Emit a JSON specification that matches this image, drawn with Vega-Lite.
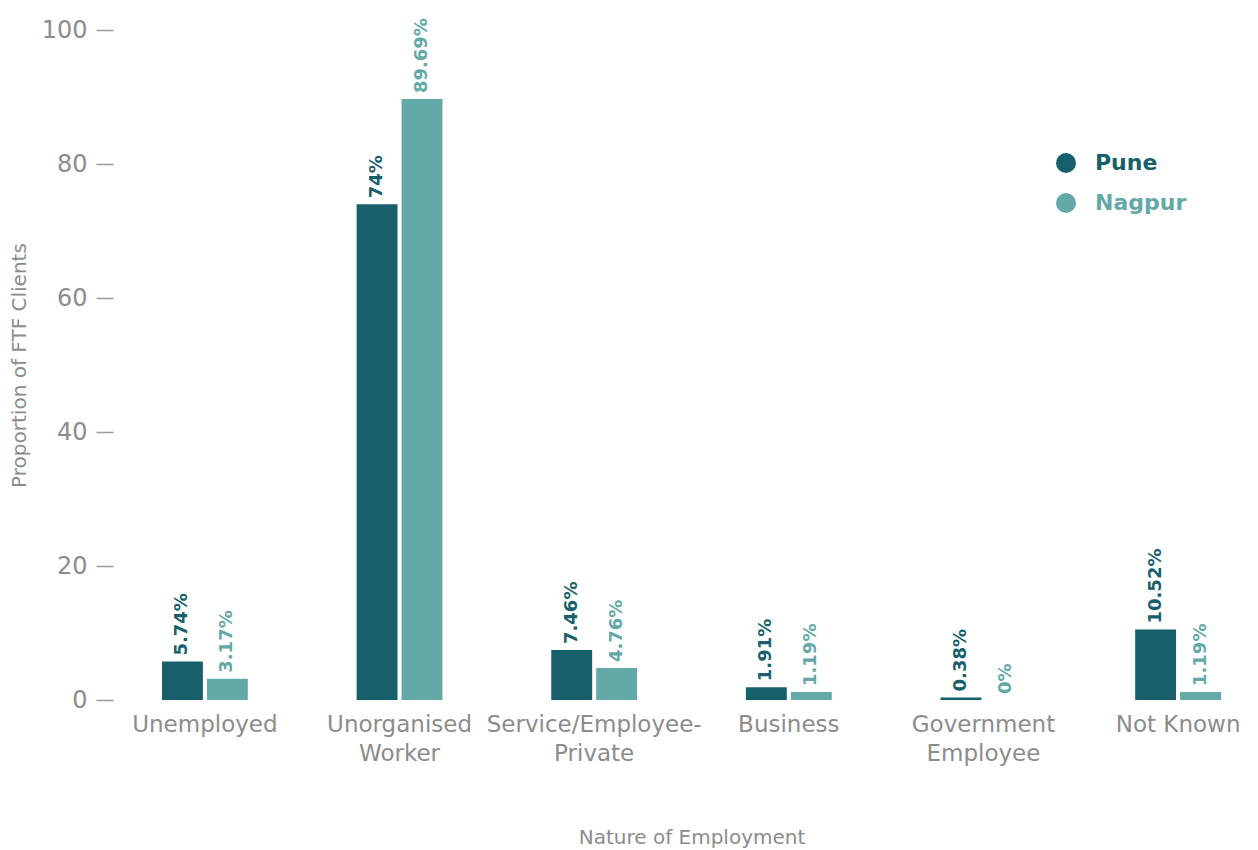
{
  "$schema": "https://vega.github.io/schema/vega-lite/v6.json",
  "width": 1133,
  "height": 670,
  "autosize": {"type": "none"},
  "padding": {"left": 125, "top": 30, "right": 0, "bottom": 150},
  "config": {"font": "DejaVu Sans", "view": {"stroke": null}},
  "data": {
    "values": [
      {"category": "Unemployed", "city": "Pune", "value": 5.74, "label": "5.74%"},
      {"category": "Unemployed", "city": "Nagpur", "value": 3.17, "label": "3.17%"},
      {"category": "Unorganised Worker", "city": "Pune", "value": 74, "label": "74%"},
      {"category": "Unorganised Worker", "city": "Nagpur", "value": 89.69, "label": "89.69%"},
      {"category": "Service/Employee-Private", "city": "Pune", "value": 7.46, "label": "7.46%"},
      {"category": "Service/Employee-Private", "city": "Nagpur", "value": 4.76, "label": "4.76%"},
      {"category": "Business", "city": "Pune", "value": 1.91, "label": "1.91%"},
      {"category": "Business", "city": "Nagpur", "value": 1.19, "label": "1.19%"},
      {"category": "Government Employee", "city": "Pune", "value": 0.38, "label": "0.38%"},
      {"category": "Government Employee", "city": "Nagpur", "value": 0, "label": "0%"},
      {"category": "Not Known", "city": "Pune", "value": 10.52, "label": "10.52%"},
      {"category": "Not Known", "city": "Nagpur", "value": 1.19, "label": "1.19%"}
    ]
  },
  "encoding": {
    "x": {
      "field": "category",
      "type": "nominal",
      "sort": ["Unemployed", "Unorganised Worker", "Service/Employee-Private", "Business", "Government Employee", "Not Known"],
      "scale": {"paddingInner": 0.559, "paddingOuter": 0.19},
      "axis": {
        "domain": false,
        "ticks": false,
        "labelAngle": 0,
        "labelPadding": 13,
        "labelFontSize": 23,
        "labelLineHeight": 29,
        "labelLimit": 0,
        "labelColor": "#8c8c8c",
        "labelFontWeight": "normal",
        "labelExpr": "datum.value == 'Unorganised Worker' ? ['Unorganised', 'Worker'] : datum.value == 'Service/Employee-Private' ? ['Service/Employee-', 'Private'] : datum.value == 'Government Employee' ? ['Government', 'Employee'] : datum.value",
        "title": "Nature of Employment",
        "titleFontSize": 20,
        "titleFontWeight": "normal",
        "titleColor": "#8c8c8c",
        "titlePadding": 62
      }
    },
    "xOffset": {"field": "city", "type": "nominal", "sort": ["Pune", "Nagpur"], "scale": {"paddingInner": 0.09}},
    "y": {
      "field": "value",
      "type": "quantitative",
      "scale": {"domain": [0, 100]},
      "axis": {
        "values": [0, 20, 40, 60, 80, 100],
        "offset": 12,
        "domain": false,
        "grid": false,
        "tickSize": 17,
        "tickColor": "#9a9a9a",
        "tickWidth": 1.5,
        "labelPadding": 9,
        "labelFontSize": 24,
        "labelColor": "#8c8c8c",
        "title": "Proportion of FTF Clients",
        "titleFontSize": 20,
        "titleFontWeight": "normal",
        "titleColor": "#8c8c8c",
        "titlePadding": 12
      }
    },
    "color": {
      "field": "city",
      "type": "nominal",
      "sort": ["Pune", "Nagpur"],
      "scale": {"domain": ["Pune", "Nagpur"], "range": ["#165f6b", "#63a9a7"]},
      "legend": {
        "orient": "none",
        "legendX": 930,
        "legendY": 122,
        "title": null,
        "symbolType": "circle",
        "symbolSize": 400,
        "symbolStrokeWidth": 0,
        "labelFontSize": 22,
        "labelFontWeight": "bold",
        "labelOffset": 18,
        "rowPadding": 18,
        "encode": {"labels": {"update": {"fill": {"scale": "color", "field": "value"}}}}
      }
    }
  },
  "layer": [
    {"mark": {"type": "bar"}},
    {
      "mark": {"type": "text", "angle": 270, "align": "left", "baseline": "middle", "dx": 6, "fontWeight": "bold", "fontSize": 18},
      "encoding": {"text": {"field": "label"}}
    }
  ]
}
